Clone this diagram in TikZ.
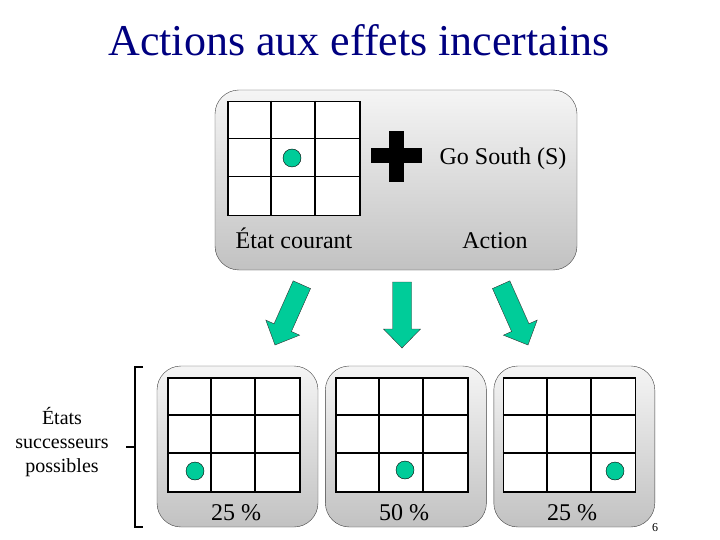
\documentclass[tikz,border=0pt]{standalone}
\usepackage{fontspec}
\setmainfont{Liberation Serif}
\usepackage{xcolor}
\usetikzlibrary{positioning}
\definecolor{vert}{RGB}{0,204,153}
\definecolor{marine}{RGB}{0,0,128}
\tikzset{
  boite/.style={draw=black!75, rounded corners=24pt, top color=black!4, bottom color=black!24, minimum width=161pt, minimum height=161pt},
  grille/.style={draw, line width=1.6pt, fill=white, minimum width=132pt, minimum height=114pt, inner sep=0pt},
  trait/.style={line width=1.6pt},
  pion/.style={circle, draw, thin, fill=vert, minimum size=18pt, inner sep=0pt},
  fleche/.style={draw=black!80, fill=vert, line join=miter},
}

\begin{document}
\begin{tikzpicture}[x=1pt, y=-1pt, node distance=7pt, every node/.style={font=\fontsize{24}{29}\selectfont}]
\useasboundingbox (0,0) rectangle (720,540);
% titre
\node[anchor=base, text=marine, font=\fontsize{44}{52}\selectfont] (titre) at (359,56) {Actions aux effets incertains};
% etat courant + action
\node[boite, minimum width=362pt, minimum height=180pt] (haut) at (396,180) {};
\node[grille] (g0) at (294,158.5) {};
\node[pion] (p0) at (292,158) {};
\fill (371,148) rectangle (422,163);
\fill (389,131) rectangle (404,182);
\node[anchor=base] (go) at (503,165) {Go South (S)};
\node[anchor=base] (etat) at (294,248) {État courant};
\node[anchor=base] (action) at (495,248) {Action};
% fleches vertes
\foreach \px/\py/\ang in {275/345/-24, 402/348/0, 528/345/24}
  \filldraw[fleche, shift={(\px,\py)}, rotate=\ang] (-9.5,-66) -- (9.5,-66) -- (9.5,-19) -- (18.5,-19) -- (0,0) -- (-18.5,-19) -- (-9.5,-19) -- cycle;
% etats successeurs
\node[boite] (b1) at (237.5,446.5) {};
\node[boite, right=of b1] (b2) {};
\node[boite, right=of b2] (b3) {};
\node[grille] (g1) at (234,435) {};
\node[grille] (g2) at (402,435) {};
\node[grille] (g3) at (569.5,435) {};
\node[pion] (p1) at (195,471) {};
\node[pion] (p2) at (405,470) {};
\node[pion] (p3) at (615,471) {};
\node[anchor=base] (q1) at (236,520) {25 \%};
\node[anchor=base] (q2) at (404,520) {50 \%};
\node[anchor=base] (q3) at (572,520) {25 \%};
\foreach \g in {g0,g1,g2,g3} {
  \draw[trait] ([xshift=44pt]\g.north west) -- ([xshift=44pt]\g.south west);
  \draw[trait] ([xshift=88pt]\g.north west) -- ([xshift=88pt]\g.south west);
  \draw[trait] ([yshift=-38pt]\g.north west) -- ([yshift=-38pt]\g.north east);
  \draw[trait] ([yshift=-76pt]\g.north west) -- ([yshift=-76pt]\g.north east);
}
% accolade
\node[align=center, font=\fontsize{20}{24}\selectfont] (succ) at (62,442) {États\\successeurs\\possibles};
\draw[line width=2.5pt] (143,367) -- (135,367) -- (135,527) -- (143,527);
\draw[line width=2.5pt] (135,447) -- (126,447);
\node[anchor=base, font=\fontsize{12}{14}\selectfont] (page) at (655,531) {6};
\end{tikzpicture}
\end{document}
